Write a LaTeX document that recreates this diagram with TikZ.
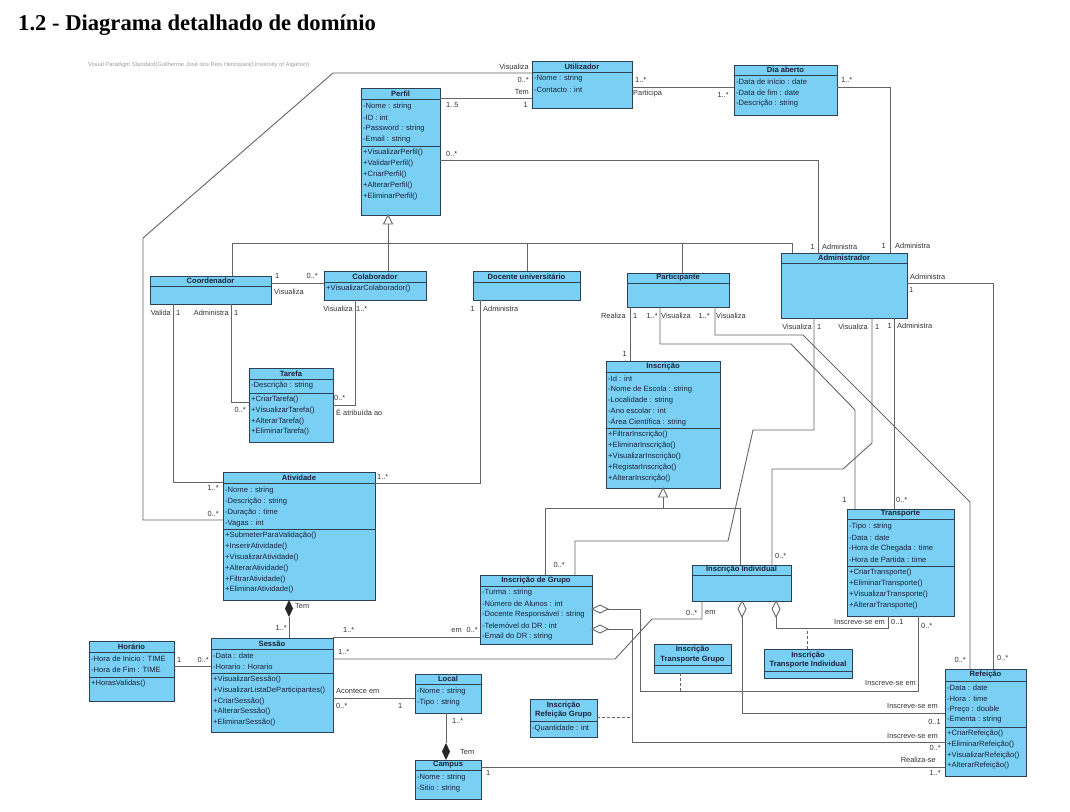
\documentclass[tikz,border=0pt]{standalone}
\usepackage{fontspec}
\setmainfont{Liberation Sans}
\newfontfamily\titlefont{Liberation Serif}
\definecolor{clsfill}{RGB}{122,207,245}
\definecolor{clsborder}{RGB}{45,65,85}
\definecolor{txt}{RGB}{25,35,55}
\definecolor{labtxt}{RGB}{50,50,50}
\definecolor{conn}{RGB}{100,100,100}
\tikzset{
 cls/.style={draw=clsborder, fill=clsfill, line width=0.8pt, inner sep=0pt, outer sep=0pt},
 clsln/.style={draw=clsborder, line width=0.7pt},
 ttl/.style={font=\fontsize{7.6}{9.5}\selectfont\bfseries, text=txt, inner sep=0pt, align=center},
 row/.style={font=\fontsize{7.6}{9}\selectfont, text=txt, anchor=west, inner sep=0pt},
 lab/.style={font=\fontsize{7.4}{9}\selectfont, text=labtxt, inner sep=0pt},
 assoc/.style={draw=conn, line width=0.9pt},
 dashedln/.style={draw=conn, line width=0.9pt, dash pattern=on 3pt off 2pt},
 comp/.style={fill=black!85},
}
\newcounter{labc}
\newcommand\umlcls[7]{%
  \node[cls, anchor=north west, minimum width={#4-#2}, minimum height={#5-#3}] (#1) at (#2,#3) {};
  \draw[clsln] (#2,#6) -- (#4,#6);
  \node[ttl] (#1-t) at ({(#2+#4)/2},{(#3+#6)/2}) {#7};}
\newcommand\umlrows[4]{%
  \foreach \rtxt [count=\ri] in {#4} \node[row] (#1\ri) at ({#2+2},{#3+(\ri-1)*10.8}) {\rtxt};}
\newcommand\umlsep[3]{\draw[clsln] (#1,#3) -- (#2,#3);}
\newcommand\umllab[3]{\stepcounter{labc}\node[lab,#1] (lab\arabic{labc}) at #2 {#3};}
\begin{document}
\begin{tikzpicture}[x=1pt,y=-1pt]
\useasboundingbox (0,0) rectangle (1070,811);
\fill[white] (0,0) rectangle (1070,811);
\node[anchor=base west, font=\titlefont\fontsize{22.6}{24}\selectfont\bfseries, inner sep=0pt] (title) at (18,30) {1.2 - Diagrama detalhado de domínio};
\node[anchor=west, font=\fontsize{5.8}{6.5}\selectfont, text=gray!75, inner sep=0pt] (wm) at (88,65) {Visual Paradigm Standard(Guilherme José dos Reis Henriques(University of Algarve))};

% classes
\umlcls{utilizador}{532}{61}{632}{108}{72}{Utilizador}
\umlrows{utilizadora}{532}{79}{-Nome : string,-Contacto : int}
\umlcls{diaaberto}{734}{65}{837}{115}{75}{Dia aberto}
\umlrows{diaa}{734}{82}{-Data de início : date,-Data de fim : date,-Descrição : string}
\umlcls{perfil}{361}{88}{440}{215}{99}{Perfil}
\umlrows{perfila}{361}{107}{-Nome : string,-ID : int,-Password : string,-Email : string}
\umlsep{361}{440}{146}
\umlrows{perfilm}{361}{153}{+VisualizarPerfil(),+ValidarPerfil(),+CriarPerfil(),+AlterarPerfil(),+EliminarPerfil()}
\umlcls{coordenador}{150}{276}{271}{304}{286}{Coordenador}
\umlcls{colaborador}{324}{271}{426}{300}{282}{Colaborador}
\umlrows{colabm}{324}{289}{+VisualizarColaborador()}
\umlcls{docente}{473}{271}{580}{300}{282}{Docente universitário}
\umlcls{participante}{627}{273}{729}{307}{283}{Participante}
\umlcls{administrador}{781}{253}{907}{318}{263}{Administrador}
\umlcls{tarefa}{249}{368}{333}{442}{379}{Tarefa}
\umlrows{tarefaa}{249}{386}{-Descrição : string}
\umlsep{249}{333}{393}
\umlrows{tarefam}{249}{399.5}{+CriarTarefa(),+VisualizarTarefa(),+AlterarTarefa(),+EliminarTarefa()}
\umlcls{inscricao}{606}{361}{720}{488}{372}{Inscrição}
\umlrows{inscricaoa}{606}{378.5}{-Id : int,-Nome de Escola : string,-Localidade : string,-Ano escolar : int,-Área Científica : string}
\umlsep{606}{720}{428}
\umlrows{inscricaom}{606}{435}{+FiltrarInscrição(),+EliminarInscrição(),+VisualizarInscrição(),+RegistarInscrição(),+AlterarInscrição()}
\umlcls{atividade}{223}{472}{375}{600}{483}{Atividade}
\umlrows{atividadea}{223}{491}{-Nome : string,-Descrição : string,-Duração : time,-Vagas : int}
\umlsep{223}{375}{529}
\umlrows{atividadem}{223}{536}{+SubmeterParaValidação(),+InserirAtividade(),+VisualizarAtividade(),+AlterarAtividade(),+FiltrarAtividade(),+EliminarAtividade()}
\umlcls{transporte}{847}{509}{954}{616}{519}{Transporte}
\umlrows{transportea}{847}{527}{-Tipo : string,-Data : date,-Hora de Chegada : time,-Hora de Partida : time}
\umlsep{847}{954}{566}
\umlrows{transportem}{847}{573}{+CriarTransporte(),+EliminarTransporte(),+VisualizarTransporte(),+AlterarTransporte()}
\umlcls{insgrupo}{480}{575}{592}{644}{586}{Inscrição de Grupo}
\umlrows{insgrupoa}{480}{593}{-Turma : string,-Número de Alunos : int,-Docente Responsável : string,-Telemóvel do DR : int,-Email do DR : string}
\umlcls{insind}{692}{565}{791}{601}{575}{Inscrição Individual}
\umlcls{horario}{89}{641}{174}{701}{652}{Horário}
\umlrows{horarioa}{89}{658.5}{-Hora de Inicio : TIME,-Hora de Fim : TIME}
\umlsep{89}{174}{677}
\umlrows{horariom}{89}{683.5}{+HorasValidas()}
\umlcls{sessao}{211}{638}{333}{732}{649}{Sessão}
\umlrows{sessaoa}{211}{655.5}{-Data : date,-Horario : Horario}
\umlsep{211}{333}{673}
\umlrows{sessaom}{211}{679.5}{+VisualizarSessão(),+VisualizarListaDeParticipantes(),+CriarSessão(),+AlterarSessão(),+EliminarSessão()}
\umlcls{local}{415}{674}{481}{713}{684}{Local}
\umlrows{locala}{415}{692}{-Nome : string,-Tipo : string}
\umlcls{campus}{415}{760}{481}{799}{770}{Campus}
\umlrows{campusa}{415}{778}{-Nome : string,-Sitio : string}
\umlcls{itgrupo}{654}{644}{731}{673}{665}{Inscrição\\Transporte Grupo}
\umlcls{itind}{764}{649}{852}{678}{671}{Inscrição\\Transporte Individual}
\umlcls{irgrupo}{530}{699}{597}{737}{721}{Inscrição\\Refeição Grupo}
\umlrows{irgrupoa}{530}{728.5}{-Quantidade : int}
\umlcls{refeicao}{945}{669}{1026}{776}{681}{Refeição}
\umlrows{refeicaoa}{945}{687.5}{-Data : date,-Hora : time,-Preço : double,-Ementa : string}
\umlsep{945}{1026}{727}
\umlrows{refeicaom}{945}{733.5}{+CriarRefeição(),+EliminarRefeição(),+VisualizarRefeição(),+AlterarRefeição()}

% C1 Utilizador - Atividade
\draw[assoc] (utilizador.west |- 0,73) -- (333,73) -- (143,238) -- (143,520) -- (atividade.west |- 0,520);
\umllab{anchor=east}{(529,67)}{Visualiza}
\umllab{anchor=east}{(529,80)}{0..*}
\umllab{anchor=east}{(219,514)}{0..*}
% C2 Perfil - Utilizador
\draw[assoc] (perfil.east |- 0,98) -- (utilizador.west |- 0,98);
\umllab{anchor=west}{(446,105)}{1..5}
\umllab{anchor=east}{(529,92)}{Tem}
\umllab{anchor=east}{(528,105)}{1}
% C3 Utilizador - Dia aberto
\draw[assoc] (utilizador.east |- 0,87) -- (diaaberto.west |- 0,87);
\umllab{anchor=west}{(635,80)}{1..*}
\umllab{anchor=west}{(633,94)}{Participa}
\umllab{anchor=east}{(729,95)}{1..*}
% C4 Dia aberto - Administrador
\draw[assoc] (diaaberto.east |- 0,87) -- (890,87) -- (890,0 |- administrador.north);
\umllab{anchor=west}{(841,80)}{1..*}
\umllab{anchor=east}{(886,246)}{1}
\umllab{anchor=west}{(895,246)}{Administra}
% C5 Perfil - Administrador
\draw[assoc] (perfil.east |- 0,160) -- (818,160) -- (818,0 |- administrador.north);
\umllab{anchor=west}{(446,154)}{0..*}
\umllab{anchor=east}{(815,247)}{1}
\umllab{anchor=west}{(822,247)}{Administra}
% generalization Perfil
\coordinate (g1) at (perfil.south -| 388,0);
\draw[assoc] (388,224) -- (388,0 |- colaborador.north);
\draw[assoc] (232,0 |- coordenador.north) -- (232,243) -- (792,243) -- (792,0 |- administrador.north);
\draw[assoc] (527,243) -- (527,0 |- docente.north);
\draw[assoc] (682,243) -- (682,0 |- participante.north);
\draw[assoc, fill=white] (g1) -- (392.5,224) -- (383.5,224) -- cycle;
% C6 Coordenador - Colaborador
\draw[assoc] (coordenador.east |- 0,283) -- (colaborador.west |- 0,283);
\umllab{anchor=west}{(275,276)}{1}
\umllab{anchor=east}{(318,276)}{0..*}
\umllab{anchor=west}{(274,292)}{Visualiza}
% C7 Coordenador - Atividade
\draw[assoc] (173,0 |- coordenador.south) -- (173,482) -- (atividade.west |- 0,482);
\umllab{anchor=east}{(171,313)}{Valida}
\umllab{anchor=west}{(176,313)}{1}
\umllab{anchor=east}{(219,488)}{1..*}
% C8 Coordenador - Tarefa
\draw[assoc] (231,0 |- coordenador.south) -- (231,402) -- (tarefa.west |- 0,402);
\umllab{anchor=east}{(229,313)}{Administra}
\umllab{anchor=west}{(234,313)}{1}
\umllab{anchor=east}{(246,410)}{0..*}
% C9 Colaborador - Tarefa
\draw[assoc] (355,0 |- colaborador.south) -- (355,405) -- (tarefa.east |- 0,405);
\umllab{anchor=east}{(353,309)}{Visualiza}
\umllab{anchor=west}{(356,309)}{1..*}
\umllab{anchor=west}{(334,398)}{0..*}
\umllab{anchor=west}{(336,412)}{É atribuída ao}
% C10 Docente - Atividade
\draw[assoc] (480,0 |- docente.south) -- (480,483) -- (atividade.east |- 0,483);
\umllab{anchor=east}{(475,309)}{1}
\umllab{anchor=west}{(483,309)}{Administra}
\umllab{anchor=west}{(377,477)}{1..*}
% C11 Participante - Inscricao
\draw[assoc] (630,0 |- participante.south) -- (630,0 |- inscricao.north);
\umllab{anchor=east}{(626,316)}{Realiza}
\umllab{anchor=west}{(633,316)}{1}
\umllab{anchor=east}{(627,354)}{1}
% C12 Participante - Transporte
\draw[assoc] (660,0 |- participante.south) -- (660,344) -- (791,344) -- (855,410) -- (855,0 |- transporte.north);
\umllab{anchor=east}{(658,316)}{1..*}
\umllab{anchor=west}{(661,316)}{Visualiza}
\umllab{anchor=east}{(847,500)}{1}
% C13 Participante - Refeicao
\draw[assoc] (715,0 |- participante.south) -- (715,335) -- (803,335) -- (970,502) -- (970,0 |- refeicao.north);
\umllab{anchor=east}{(710,316)}{1..*}
\umllab{anchor=west}{(716,316)}{Visualiza}
\umllab{anchor=east}{(966,660)}{0..*}
% C14 Administrador - Inscricao de Grupo
\draw[assoc] (814,0 |- administrador.south) -- (814,430) -- (753,430) -- (728,541) -- (575,541) -- (575,0 |- insgrupo.north);
\umllab{anchor=east}{(812,327)}{Visualiza}
\umllab{anchor=west}{(817,327)}{1}
\umllab{anchor=east}{(565,565)}{0..*}
% C15 Administrador - Inscricao Individual
\draw[assoc] (872,0 |- administrador.south) -- (872,443) -- (843,469) -- (772,469) -- (772,0 |- insind.north);
\umllab{anchor=east}{(868,327)}{Visualiza}
\umllab{anchor=west}{(875,327)}{1}
\umllab{anchor=west}{(775,556)}{0..*}
% C16 Administrador - Transporte
\draw[assoc] (894,0 |- administrador.south) -- (894,0 |- transporte.north);
\umllab{anchor=east}{(892,326)}{1}
\umllab{anchor=west}{(897,326)}{Administra}
\umllab{anchor=west}{(896,500)}{0..*}
% C17 Administrador - Refeicao
\draw[assoc] (administrador.east |- 0,283) -- (993,283) -- (993,0 |- refeicao.north);
\umllab{anchor=west}{(910,277)}{Administra}
\umllab{anchor=west}{(909,290)}{1}
\umllab{anchor=west}{(997,658)}{0..*}
% generalization Inscricao
\coordinate (g2) at (inscricao.south -| 663,0);
\draw[assoc] (663,497) -- (663,508);
\draw[assoc] (545,0 |- insgrupo.north) -- (545,508) -- (740,508) -- (740,0 |- insind.north);
\draw[assoc, fill=white] (g2) -- (667.5,497) -- (658.5,497) -- cycle;
% C18 Atividade - Sessao (composition)
\draw[assoc] (289,617) -- (289,0 |- sessao.north);
\fill[comp] (atividade.south -| 289,0) -- (293,608.5) -- (289,617) -- (285,608.5) -- cycle;
\umllab{anchor=west}{(295,606)}{Tem}
\umllab{anchor=east}{(287,628)}{1..*}
% C19 Sessao - Inscricao de Grupo
\draw[assoc] (sessao.east |- 0,637) -- (insgrupo.west |- 0,637);
\umllab{anchor=west}{(343,630)}{1..*}
\umllab{anchor=east}{(478,630)}{em\hspace{5pt}0..*}
% C20 Sessao - Inscricao Individual
\draw[assoc] (sessao.east |- 0,659) -- (615,659) -- (652,619) -- (702,619) -- (702,0 |- insind.south);
\umllab{anchor=west}{(338,652)}{1..*}
\umllab{anchor=west}{(686,613)}{0..*}
\umllab{anchor=west}{(705,613)}{em}
% C21 Horario - Sessao
\draw[assoc] (horario.east |- 0,666) -- (sessao.west |- 0,666);
\umllab{anchor=west}{(177,660)}{1}
\umllab{anchor=east}{(209,660)}{0..*}
% C22 Sessao - Local
\draw[assoc] (sessao.east |- 0,698) -- (local.west |- 0,698);
\umllab{anchor=west}{(336,691)}{Acontece em}
\umllab{anchor=west}{(336,706)}{0..*}
\umllab{anchor=west}{(398,706)}{1}
% C23 Local - Campus (composition)
\draw[assoc] (446,0 |- local.south) -- (446,743);
\fill[comp] (446,743) -- (450,751.5) -- (campus.north -| 446,0) -- (442,751.5) -- cycle;
\umllab{anchor=west}{(452,721)}{1..*}
\umllab{anchor=west}{(460,752)}{Tem}
% C24 Campus - Refeicao
\draw[assoc] (campus.east |- 0,767) -- (refeicao.west |- 0,767);
\umllab{anchor=west}{(486,773)}{1}
\umllab{anchor=east}{(936,760)}{Realiza-se}
\umllab{anchor=east}{(941,773)}{1..*}
% C25 Inscricao de Grupo - Transporte
\draw[assoc] (608,609) -- (640,609) -- (640,691) -- (918,691) -- (918,0 |- transporte.south);
\draw[assoc, fill=white] (insgrupo.east |- 0,609) -- (600,605) -- (608,609) -- (600,613) -- cycle;
\umllab{anchor=east}{(916,683)}{Inscreve-se em}
\umllab{anchor=west}{(921,626)}{0..*}
% C26 Inscricao de Grupo - Refeicao
\draw[assoc] (608,629) -- (632,629) -- (632,742) -- (refeicao.west |- 0,742);
\draw[assoc, fill=white] (insgrupo.east |- 0,629) -- (600,625) -- (608,629) -- (600,633) -- cycle;
\umllab{anchor=east}{(938,736)}{Inscreve-se em}
\umllab{anchor=east}{(941,748)}{0..*}
% C27 Inscricao Individual - Refeicao
\draw[assoc] (742,617) -- (742,713) -- (refeicao.west |- 0,713);
\draw[assoc, fill=white] (insind.south -| 742,0) -- (746,609) -- (742,617) -- (738,609) -- cycle;
\umllab{anchor=east}{(938,706)}{Inscreve-se em}
\umllab{anchor=east}{(941,722)}{0..1}
% C28 Inscricao Individual - Transporte
\draw[assoc] (776,617) -- (776,628) -- (888,628) -- (888,0 |- transporte.south);
\draw[assoc, fill=white] (insind.south -| 776,0) -- (780,609) -- (776,617) -- (772,609) -- cycle;
\umllab{anchor=east}{(885,622)}{Inscreve-se em}
\umllab{anchor=west}{(891,622)}{0..1}
% association classes
\draw[dashedln] (680,0 |- itgrupo.south) -- (680,691);
\draw[dashedln] (807,0 |- itind.north) -- (807,628);
\draw[dashedln] (irgrupo.east |- 0,717) -- (632,717);
\end{tikzpicture}
\end{document}
